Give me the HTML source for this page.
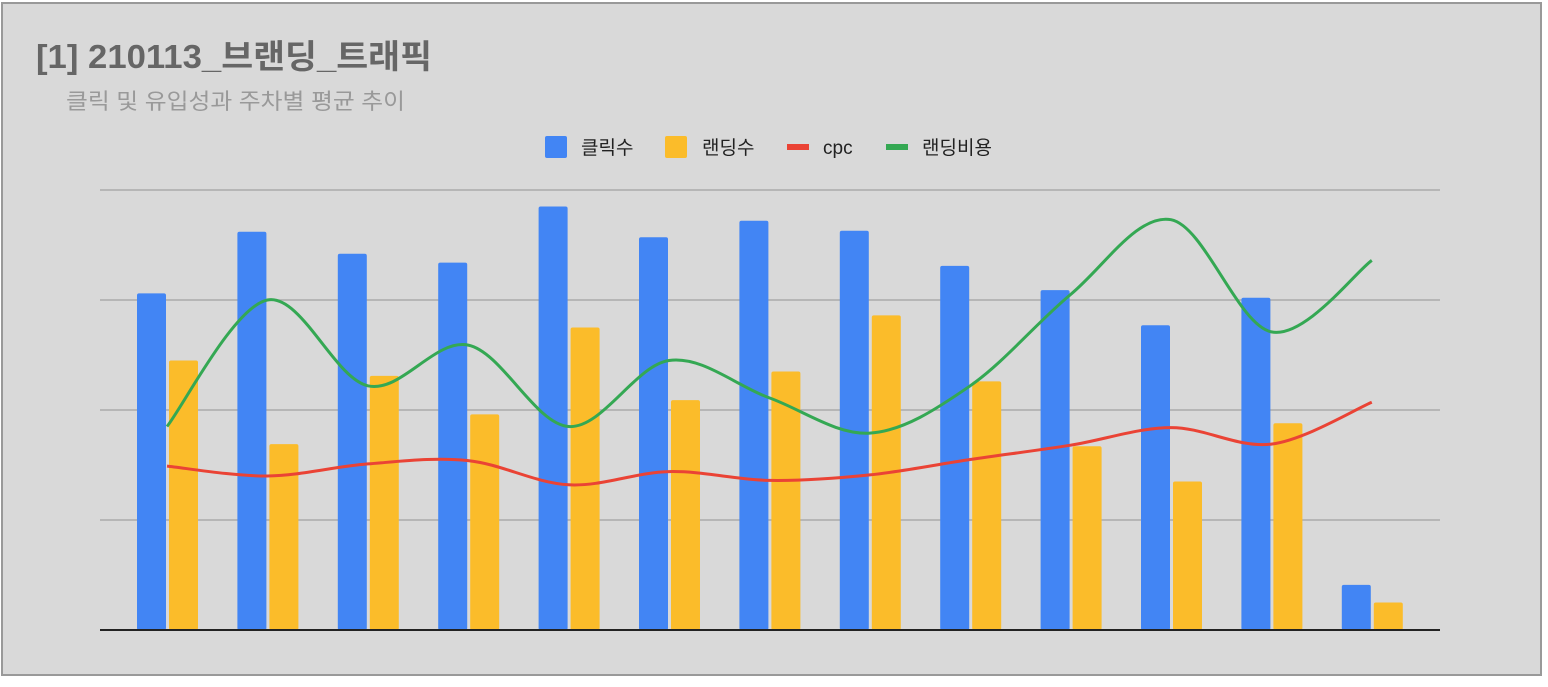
<!DOCTYPE html>
<html><head><meta charset="utf-8"><style>
body{margin:0;width:1548px;height:682px;background:#fff;overflow:hidden;font-family:"Liberation Sans","Noto Sans CJK KR",sans-serif}
</style></head><body>
<svg width="1548" height="682">
<rect x="2" y="3" width="1539" height="672" fill="#d9d9d9" stroke="#999" stroke-width="2"/>
<text x="36" y="68" font-size="33" font-weight="bold" fill="#666" textLength="396" lengthAdjust="spacingAndGlyphs" font-family="Liberation Sans, Noto Sans CJK KR, sans-serif">[1] 210113_브랜딩_트래픽</text>
<text x="66" y="109" font-size="22" fill="#999" textLength="339" lengthAdjust="spacingAndGlyphs" font-family="Liberation Sans, Noto Sans CJK KR, sans-serif">클릭 및 유입성과 주차별 평균 추이</text>
<g font-size="19" fill="#222" font-family="Liberation Sans, Noto Sans CJK KR, sans-serif">
<g><rect x="545" y="136" width="22" height="22" rx="2" fill="#4285f4"/><text x="581" y="154">클릭수</text></g>
<g><rect x="665" y="136" width="22" height="22" rx="2" fill="#fbbc2a"/><text x="702" y="154">랜딩수</text></g>
<g><rect x="787" y="144" width="22" height="6" fill="#ea4335"/><text x="823" y="154">cpc</text></g>
<g><rect x="886" y="144" width="22" height="6" fill="#34a853"/><text x="922" y="154">랜딩비용</text></g>
</g>
<g id="plot"></g>
</svg>
<script>
const categories=["1","2","3","4","5","6","7","8","9","10","11","12","13"];
const clicks=[3.06,3.62,3.42,3.34,3.85,3.57,3.72,3.63,3.31,3.09,2.77,3.02,0.41];
const landings=[2.45,1.69,2.31,1.96,2.75,2.09,2.35,2.86,2.26,1.67,1.35,1.88,0.25];
const cpc=[1.49,1.40,1.51,1.54,1.32,1.44,1.36,1.41,1.55,1.68,1.84,1.69,2.07];
const landingCost=[1.85,3.00,2.22,2.59,1.85,2.45,2.11,1.79,2.22,3.05,3.73,2.71,3.36];
const gridTicks=[0,1,2,3,4];
const NS="http://www.w3.org/2000/svg";
const plot=document.getElementById('plot');
const y=v=>630-v*110;
const xc=i=>167+i*100.4;
function mk(t,a){const e=document.createElementNS(NS,t);for(const k in a)e.setAttribute(k,a[k]);plot.appendChild(e);return e;}
gridTicks.forEach(t=>{if(t===0)return;const l=mk('line',{x1:100,x2:1440,y1:y(t),y2:y(t),stroke:'#aaa','stroke-width':1.5});

});
categories.forEach((c,i)=>{
const b=mk('rect',{x:xc(i)-30,y:y(clicks[i]),width:29,height:clicks[i]*110,rx:2,fill:'#4285f4'});


const b2=mk('rect',{x:xc(i)+2,y:y(landings[i]),width:29,height:landings[i]*110,rx:2,fill:'#fbbc2a'});


});
const base=mk('line',{x1:100,x2:1440,y1:630,y2:630,stroke:'#222','stroke-width':2});


function smooth(vals){const p=vals.map((v,i)=>[xc(i),y(v)]);let d=`M${p[0][0]},${p[0][1]}`;
for(let i=0;i<p.length-1;i++){const p0=p[i-1]||p[i],p1=p[i],p2=p[i+1],p3=p[i+2]||p2;const t=0.5/3*2;
const c1=[p1[0]+(p2[0]-p0[0])*t/2,p1[1]+(p2[1]-p0[1])*t/2],c2=[p2[0]-(p3[0]-p1[0])*t/2,p2[1]-(p3[1]-p1[1])*t/2];
d+=` C${c1[0]},${c1[1]} ${c2[0]},${c2[1]} ${p2[0]},${p2[1]}`;}return d;}
const l1=mk('path',{d:smooth(cpc),fill:'none',stroke:'#ea4335','stroke-width':3});


const l2=mk('path',{d:smooth(landingCost),fill:'none',stroke:'#34a853','stroke-width':3});


</script>
</body></html>
